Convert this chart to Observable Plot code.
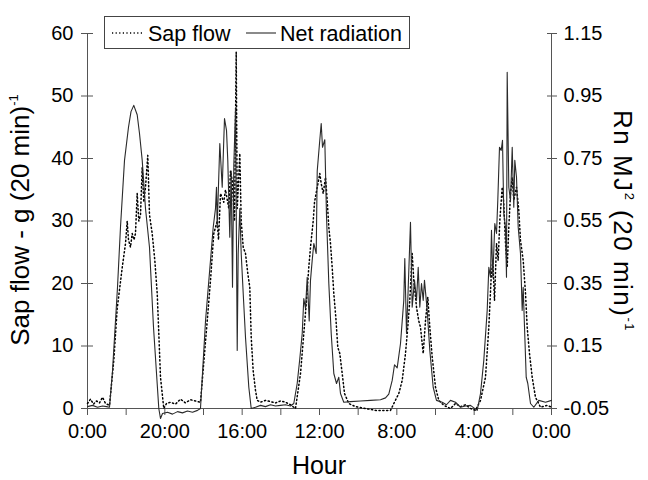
<!DOCTYPE html>
<html><head><meta charset="utf-8">
<script src="https://cdn.jsdelivr.net/npm/d3@7"></script>
<script src="https://cdn.jsdelivr.net/npm/@observablehq/plot@0.6"></script>
<style>
body{margin:0;background:#fff;}
#chart{position:relative;width:648px;height:480px;font-family:"Liberation Sans",Arial,sans-serif;color:#000;background:#fff;overflow:hidden;}
#chart svg.plot{position:absolute;left:0;top:0;}
.ttl{position:absolute;white-space:nowrap;line-height:1;}
.ttl sup{font-size:0.5em;vertical-align:0.9em;}
</style></head><body><div id="chart"></div>
<script>
// ---- data (hour since start, value) ----
const sapFlow = [[0,0.8],[0.78,1.5],[1.55,0.7],[2.33,1.2],[3.10,0.9],[3.88,1.8],[4.66,0.8],[5.69,0.5],[6.80,7.7],[7.68,16],[8.28,19],[8.97,22.5],[9.83,26.4],[10.27,30],[10.60,27],[11.12,25.8],[11.56,28],[12.03,27],[12.41,28],[12.85,34.4],[13.27,30],[13.71,31],[14.15,38.6],[14.56,33],[15.00,35.4],[15.59,40.5],[16.03,31],[16.73,28],[17.41,23.7],[18.03,18.4],[18.44,12],[18.88,5],[19.73,0],[20.43,0.8],[21.47,1.0],[22.76,0.7],[24.05,1.5],[25.34,0.9],[26.64,1.4],[27.93,1.2],[29.22,1.0],[30.96,14],[31.81,20.5],[32.66,28],[33.54,30],[33.88,27],[34.40,34.4],[35.25,33],[35.69,35],[36.54,32],[36.98,38],[37.42,36.5],[38.02,30],[38.46,57],[38.72,32],[39.05,36],[39.39,40.8],[39.75,30],[40.27,25.8],[40.86,24.8],[41.46,21.6],[41.97,19.4],[42.34,11.4],[42.85,6],[43.45,2.9],[43.89,1.3],[44.74,1.0],[46.03,1.3],[47.33,1.1],[48.62,0.9],[49.91,1.2],[51.21,1.0],[52.50,0.6],[53.79,0],[55.09,5.6],[55.94,12],[56.64,17.3],[57.23,22.6],[57.67,25.8],[58.37,30],[58.71,33],[59.41,35.4],[60.08,37.6],[60.44,36],[60.96,34.4],[61.55,37],[61.99,33.3],[62.41,29],[62.84,26.4],[63.28,22.6],[63.70,18.4],[64.22,14.6],[64.73,9.8],[65.25,8.8],[65.87,5.6],[66.47,2.4],[67.58,0.8],[69.31,0.3],[71.90,0],[74.48,-0.3],[77.07,-0.3],[78.36,-0.3],[79.22,0.8],[80.51,2.4],[81.39,4.5],[82.24,8.8],[82.83,13],[83.35,17.3],[83.97,24.8],[84.39,20.5],[85.09,16.2],[85.68,14],[86.12,13],[86.82,8.8],[87.41,14],[88.01,17.8],[88.53,13],[89.15,8.2],[90.00,3.4],[90.85,1.3],[92.15,0.5],[93.88,0],[95.17,0.8],[96.47,0.3],[97.76,0.6],[99.05,0],[100.34,-0.3],[101.64,1.3],[102.93,5],[103.79,13],[104.40,21],[104.82,23.7],[105.26,17.3],[105.78,26.4],[106.21,23.7],[106.63,30],[107.25,35.4],[107.66,32.8],[108.10,26.4],[108.54,22.6],[108.96,29],[109.40,34.4],[109.84,37],[110.25,33.3],[110.95,35.4],[111.54,31.7],[111.98,26.9],[112.68,23.7],[113.28,18.4],[113.71,13],[114.31,8.8],[115.01,5],[115.86,1.8],[117.16,0.2],[118.89,0.5],[120.00,0.2]];

const netRadiation = [[0,-0.044],[1.29,-0.040],[2.59,-0.046],[3.88,-0.042],[4.91,-0.044],[5.69,-0.046],[6.47,0.070],[7.76,0.338],[8.53,0.530],[9.57,0.744],[10.60,0.850],[11.25,0.900],[11.97,0.920],[12.85,0.890],[13.45,0.830],[14.15,0.744],[15.00,0.590],[16.03,0.466],[17.07,0.210],[18.44,-0.050],[18.88,-0.082],[19.40,-0.066],[20.69,-0.062],[21.98,-0.068],[23.28,-0.060],[24.57,-0.064],[25.86,-0.058],[27.16,-0.062],[28.45,-0.056],[29.22,-0.050],[30.52,0.230],[31.81,0.424],[32.51,0.530],[33.10,0.590],[33.36,0.658],[33.54,0.530],[34.22,0.798],[34.84,0.658],[35.43,0.878],[35.95,0.840],[36.28,0.744],[36.80,0.498],[37.16,0.710],[37.50,0.338],[37.84,0.730],[38.28,0.910],[38.72,0.136],[38.97,0.446],[39.39,0.590],[39.75,0.446],[40.27,0.318],[40.86,0.178],[41.72,0.018],[42.34,-0.050],[43.45,-0.046],[44.74,-0.040],[46.03,-0.044],[47.33,-0.038],[48.62,-0.042],[49.91,-0.040],[51.21,-0.038],[52.50,-0.042],[53.35,-0.034],[54.23,0.030],[54.91,0.110],[55.53,0.190],[55.94,0.302],[56.38,0.270],[56.82,0.370],[57.34,0.230],[57.67,0.360],[58.11,0.424],[58.53,0.478],[59.15,0.446],[59.41,0.710],[60.00,0.798],[60.44,0.862],[60.78,0.786],[61.37,0.810],[61.81,0.568],[62.41,0.350],[63.03,0.190],[63.70,0.062],[64.40,0.030],[64.99,0.050],[65.43,-0.002],[66.28,-0.030],[68.02,-0.028],[70.60,-0.026],[73.19,-0.024],[75.78,-0.022],[77.07,-0.016],[77.92,-0.004],[78.80,0.040],[79.40,0.090],[80.09,0.080],[80.95,0.158],[81.80,0.296],[82.06,0.430],[82.50,0.190],[82.83,0.296],[83.53,0.546],[83.97,0.274],[84.57,0.360],[85.09,0.296],[85.53,0.402],[85.94,0.274],[86.38,0.350],[86.82,0.296],[87.15,0.360],[87.85,0.264],[88.53,0.136],[89.40,0.018],[90.26,-0.024],[91.73,-0.030],[92.84,-0.038],[93.88,-0.024],[95.17,-0.030],[96.47,-0.046],[97.76,-0.042],[99.05,-0.040],[100.79,-0.056],[101.64,-0.002],[102.49,0.104],[103.37,0.264],[103.79,0.402],[104.22,0.370],[104.48,0.520],[104.82,0.370],[105.34,0.542],[105.78,0.510],[106.11,0.616],[106.55,0.786],[106.99,0.776],[107.33,0.808],[107.66,0.574],[108.10,0.530],[108.36,0.370],[108.54,1.026],[108.96,0.658],[109.40,0.616],[109.84,0.786],[110.25,0.594],[110.51,0.744],[110.95,0.690],[111.39,0.530],[111.98,0.446],[112.42,0.264],[112.68,0.338],[113.02,0.210],[113.46,0.050],[113.87,0.030],[114.57,-0.034],[115.42,-0.046],[116.72,-0.024],[118.45,-0.030],[120.00,-0.024]];

const xMinorHours = [0,10,20,30,40,50,60,70,80,90,100,110,120];
const xTickHours = [0,20,40,60,80,100,120];
const xTickLabels = ["0:00","20:00","16:00","12:00","8:00","4:00","0:00"];
const sapTicks = [0,10,20,30,40,50,60];
const rnTicks = [-0.05,0.15,0.35,0.55,0.75,0.95,1.15];
const rnTickLabels = ["-0.05","0.15","0.35","0.55","0.75","0.95","1.15"];
const seriesNames = ["Sap flow","Net radiation"];

// ---- layout ----
const W = 648, H = 480;
const M = {marginTop:33, marginBottom:72, marginLeft:87, marginRight:97};
const font = '"Liberation Sans", Arial, sans-serif';
const axisCol = "#555";
const chart = document.getElementById("chart");

const sapData = sapFlow.map(([h,v]) => ({h, v}));
const rnData = netRadiation.map(([h,v]) => ({h, v}));

const p1 = Plot.plot({
  width: W, height: H, ...M,
  style: {background: "transparent", fontFamily: font, fontSize: "20px", color: "#000"},
  x: {domain: [0,120], label: null},
  y: {domain: [0,60], label: null},
  marks: [
    Plot.ruleY([0], {stroke: axisCol, strokeWidth: 1}),
    Plot.ruleX([0, 120], {stroke: axisCol, strokeWidth: 1}),
    Plot.axisX({ticks: xMinorHours, tickSize: 7, fill: "none", stroke: axisCol, label: null}),
    Plot.axisX({ticks: xTickHours, tickSize: 7, tickPadding: 8, stroke: "none", fill: "#000",
      tickFormat: d => xTickLabels[xTickHours.indexOf(d)], label: null}),
    Plot.axisY({ticks: sapTicks, tickSize: 12, dx: 6, fill: "none", stroke: axisCol, label: null}),
    Plot.axisY({ticks: sapTicks, tickSize: 6, tickPadding: 8, stroke: "none", fill: "#000", tickFormat: d => String(d), label: null}),
    Plot.line(sapData, {x: "h", y: "v", stroke: "#000", strokeWidth: 1.5, strokeDasharray: "1.2,2.6"})
  ]
});
p1.classList.add("plot");
chart.appendChild(p1);

const p2 = Plot.plot({
  width: W, height: H, ...M,
  style: {background: "transparent", fontFamily: font, fontSize: "20px", color: "#000"},
  x: {domain: [0,120], axis: null},
  y: {domain: [-0.05,1.15], label: null},
  marks: [
    Plot.axisY({anchor: "right", ticks: rnTicks, tickSize: 10, dx: -5, fill: "none", stroke: axisCol, label: null}),
    Plot.axisY({anchor: "right", ticks: rnTicks, tickSize: 5, tickPadding: 7, stroke: "none", fill: "#000",
      tickFormat: d => rnTickLabels[rnTicks.indexOf(d)], label: null}),
    Plot.line(rnData, {x: "h", y: "v", stroke: "#2a2a2a", strokeWidth: 1.1})
  ]
});
p2.classList.add("plot");
chart.appendChild(p2);

// ---- legend ----
const legend = document.createElement("div");
legend.style.cssText = "position:absolute;left:104px;top:16px;width:306px;height:33px;box-sizing:border-box;border:1px solid #444;background:#fff;";
legend.innerHTML = `<svg width="304" height="31" style="position:absolute;left:0;top:0;font-family:${font.replace(/"/g,"'")};font-size:21.5px;">
  <line x1="7" x2="38" y1="16" y2="16" stroke="#000" stroke-width="1.3" stroke-dasharray="1.2,2.4"/>
  <text x="43" y="23.5" fill="#000">${seriesNames[0]}</text>
  <line x1="141" x2="171" y1="16" y2="16" stroke="#2a2a2a" stroke-width="1.1"/>
  <text x="175" y="23.5" fill="#000">${seriesNames[1]}</text>
</svg>`;
chart.appendChild(legend);

// ---- titles ----
function addTitle(html, cx, cy, rot, size, spacing) {
  const d = document.createElement("div");
  d.className = "ttl";
  d.innerHTML = html;
  d.style.fontSize = size + "px";
  if (spacing) d.style.letterSpacing = spacing + "px";
  d.style.left = cx + "px";
  d.style.top = cy + "px";
  d.style.transform = `translate(-50%,-50%) rotate(${rot}deg)`;
  chart.appendChild(d);
}
addTitle("Sap flow - g (20 min)<sup>-1</sup>", 20, 220, -90, 26);
addTitle("Rn MJ<sup>2</sup> (20 min)<sup>-1</sup>", 623, 221, 90, 26, 1.5);
addTitle("Hour", 319, 465, 0, 25);
</script></body></html>
